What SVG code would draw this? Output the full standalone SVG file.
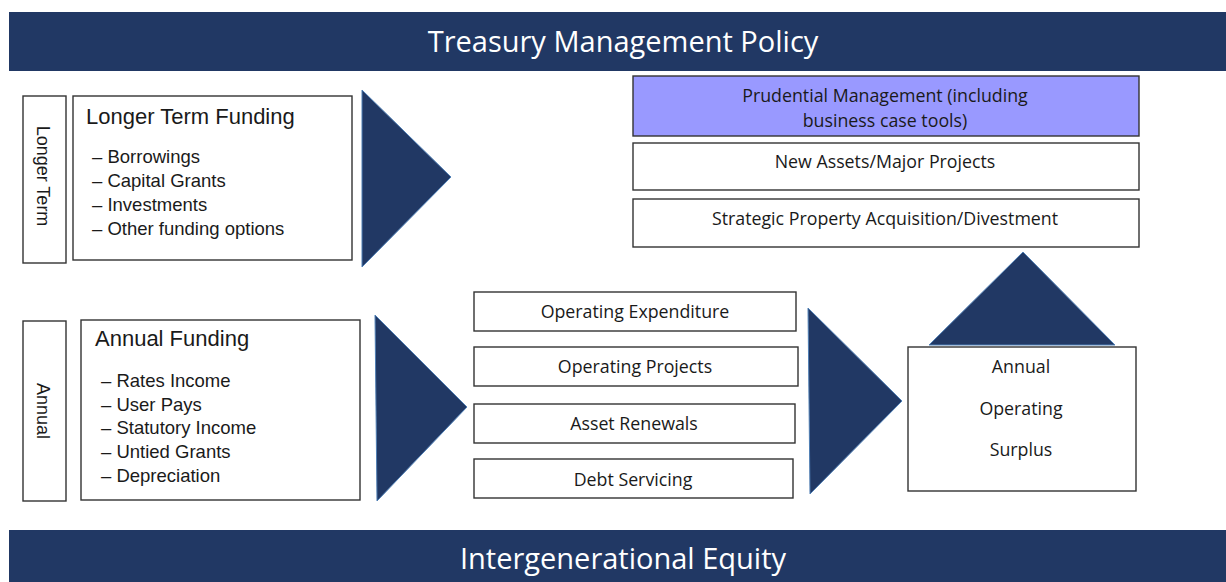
<svg xmlns="http://www.w3.org/2000/svg" width="1226" height="582" viewBox="0 0 1226 582">
<style>
.banner{fill:#213864}
.btxt{fill:#fff;font-family:"Open Sans","Noto Sans",sans-serif;font-size:29px;text-anchor:middle}
.box{fill:#fff;stroke:#333;stroke-width:1.4}
.pbox{fill:#9999ff;stroke:#333;stroke-width:1.4}
.arrow{fill:#213864;stroke:#4f7fb5;stroke-width:1}
.ar{font-family:"Liberation Sans",Arial,sans-serif;fill:#1a1a1a}
.ttl{font-size:22px}
.bul{font-size:18.5px}
.vl{font-size:18px;text-anchor:middle}
.cal{font-family:"Open Sans","Noto Sans",sans-serif;font-size:17.8px;fill:#1a1a1a;text-anchor:middle}
</style>
<rect width="1226" height="582" fill="#fff"/>
<g id="banner-top">
<rect class="banner" x="9" y="12" width="1217" height="59"/>
<text class="btxt" x="623" y="52">Treasury Management Policy</text>
</g>
<g id="banner-bottom">
<rect class="banner" x="9" y="530" width="1217" height="52"/>
<text class="btxt" x="623" y="569">Intergenerational Equity</text>
</g>
<g id="label-longer-term">
<rect class="box" x="23" y="96" width="43" height="167"/>
<text class="ar vl" transform="translate(37,176) rotate(90)">Longer Term</text>
</g>
<g id="longer-term-funding">
<rect class="box" x="73" y="96" width="279" height="164"/>
<text class="ar ttl" x="86" y="124">Longer Term Funding</text>
<text class="ar bul" x="92" y="163">– Borrowings</text>
<text class="ar bul" x="92" y="187">– Capital Grants</text>
<text class="ar bul" x="92" y="211">– Investments</text>
<text class="ar bul" x="92" y="235">– Other funding options</text>
</g>
<g id="label-annual">
<rect class="box" x="23" y="321" width="43" height="180"/>
<text class="ar vl" transform="translate(37,411) rotate(90)">Annual</text>
</g>
<g id="annual-funding">
<rect class="box" x="81" y="320" width="279" height="180"/>
<text class="ar ttl" x="95" y="346">Annual Funding</text>
<text class="ar bul" x="101" y="387">– Rates Income</text>
<text class="ar bul" x="101" y="411">– User Pays</text>
<text class="ar bul" x="101" y="434">– Statutory Income</text>
<text class="ar bul" x="101" y="458">– Untied Grants</text>
<text class="ar bul" x="101" y="482">– Depreciation</text>
</g>
<g id="connectors">
<polygon class="arrow" points="362,90 451,177 362,267"/>
<polygon class="arrow" points="375,315 467,407 377,501"/>
<polygon class="arrow" points="808,308 902,401 810,494"/>
<polygon class="arrow" points="929,345 1023,252 1115,345"/>
</g>
<g id="operating-expenditure">
<rect class="box" x="474" y="292" width="322" height="39"/>
<text class="cal" x="635" y="318">Operating Expenditure</text>
</g>
<g id="operating-projects">
<rect class="box" x="474" y="347" width="324" height="39"/>
<text class="cal" x="635" y="373">Operating Projects</text>
</g>
<g id="asset-renewals">
<rect class="box" x="474" y="404" width="321" height="39"/>
<text class="cal" x="634" y="430">Asset Renewals</text>
</g>
<g id="debt-servicing">
<rect class="box" x="474" y="459" width="319" height="39"/>
<text class="cal" x="633" y="486">Debt Servicing</text>
</g>
<g id="prudential-management">
<rect class="pbox" x="633" y="76" width="506" height="60"/>
<text class="cal" x="885" y="102">Prudential Management (including</text>
<text class="cal" x="885" y="127">business case tools)</text>
</g>
<g id="new-assets">
<rect class="box" x="633" y="143" width="506" height="47"/>
<text class="cal" x="885" y="168">New Assets/Major Projects</text>
</g>
<g id="strategic-property">
<rect class="box" x="633" y="199" width="506" height="48"/>
<text class="cal" x="885" y="225">Strategic Property Acquisition/Divestment</text>
</g>
<g id="annual-operating-surplus">
<rect class="box" x="908" y="347" width="228" height="144"/>
<text class="cal" x="1021" y="373">Annual</text>
<text class="cal" x="1021" y="415">Operating</text>
<text class="cal" x="1021" y="456">Surplus</text>
</g>
</svg>
